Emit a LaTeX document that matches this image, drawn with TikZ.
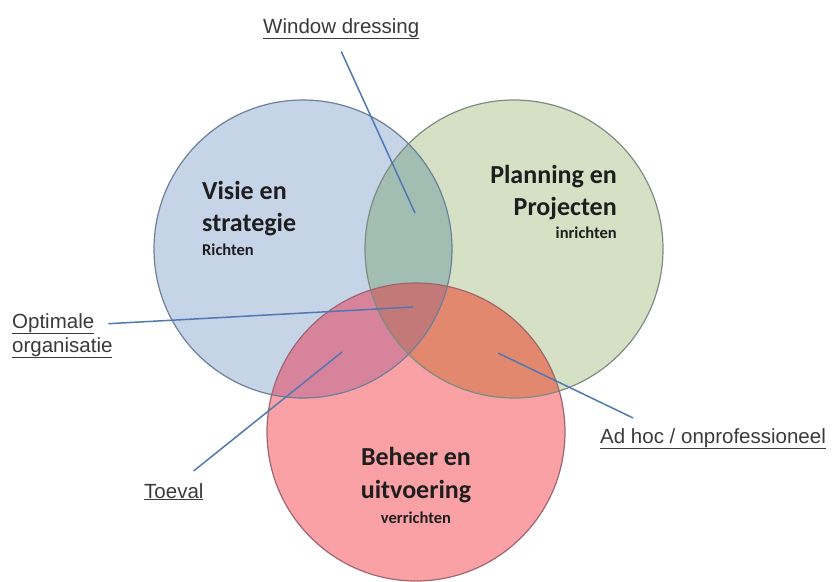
\documentclass[tikz,border=0pt]{standalone}
\usepackage{fontspec}
\usepackage{tikz}
\newfontfamily\calibri{Carlito}
\newfontfamily\arial{Liberation Sans}
\definecolor{visieblue}{HTML}{C6D4E8}
\definecolor{plangreen}{HTML}{D5E0C4}
\definecolor{beheerred}{HTML}{FAA1A6}
\definecolor{vpmix}{HTML}{A2BEB3}
\definecolor{vbmix}{HTML}{D7839B}
\definecolor{pbmix}{HTML}{E2886F}
\definecolor{allmix}{HTML}{C27977}
\definecolor{visieline}{HTML}{6E7F9A}
\definecolor{planline}{HTML}{7E8C83}
\definecolor{beheerline}{HTML}{9E6670}
\definecolor{calloutblue}{HTML}{5079B0}
\definecolor{labelgrey}{HTML}{3A3A3A}
\definecolor{titleblack}{HTML}{1E1E1E}
\tikzstyle{callout} = [draw=calloutblue, line width=1.5pt]
\tikzstyle{lbltext} = [inner sep=0pt, text=labelgrey, font=\arial\fontsize{20.5}{24}\selectfont]
\tikzstyle{circtitle} = [inner sep=0pt, text=titleblack, font=\calibri\bfseries\fontsize{26}{32}\selectfont]
\tikzstyle{circsub} = [inner sep=0pt, text=titleblack, font=\calibri\bfseries\fontsize{16.5}{20}\selectfont]

\begin{document}
\begin{tikzpicture}[x=1pt, y=-1pt]
    \useasboundingbox (0,0) rectangle (834,581);
    \coordinate (vc) at (303,249);
    \coordinate (pc) at (514,249);
    \coordinate (bc) at (416,432);
    % circles and overlaps
    \fill[visieblue] (vc) circle[radius=149pt];
    \fill[plangreen] (pc) circle[radius=149pt];
    \fill[beheerred] (bc) circle[radius=149pt];
    \begin{scope}
        \clip (vc) circle[radius=149pt];
        \fill[vpmix] (pc) circle[radius=149pt];
        \fill[vbmix] (bc) circle[radius=149pt];
    \end{scope}
    \begin{scope}
        \clip (pc) circle[radius=149pt];
        \fill[pbmix] (bc) circle[radius=149pt];
        \clip (vc) circle[radius=149pt];
        \fill[allmix] (bc) circle[radius=149pt];
    \end{scope}
    \draw[visieline, line width=1.2pt] (vc) circle[radius=149pt];
    \draw[planline, line width=1.2pt] (pc) circle[radius=149pt];
    \draw[beheerline, line width=1.2pt] (bc) circle[radius=149pt];

    \node[circtitle, anchor=base west] (visie1) at (202,199) {Visie en};
    \node[circtitle, anchor=base west] (visie2) at (202,231) {strategie};
    \node[circsub, anchor=base west] (visie3) at (202,255) {Richten};
    \node[circtitle, anchor=base east] (plan1) at (617,183) {Planning en};
    \node[circtitle, anchor=base east] (plan2) at (617,215) {Projecten};
    \node[circsub, anchor=base east] (plan3) at (617,238) {inrichten};
    \node[circtitle, anchor=base] (beh1) at (416,465) {Beheer en};
    \node[circtitle, anchor=base] (beh2) at (416,498) {uitvoering};
    \node[circsub, anchor=base] (beh3) at (416,523) {verrichten};

    \node[lbltext, anchor=base west] (wd) at (263,33) {\underline{Window dressing}};
    \node[lbltext, anchor=base west] (opt1) at (12,328) {\underline{Optimale}};
    \node[lbltext, anchor=base west] (opt2) at (12,352) {\underline{organisatie}};
    \node[lbltext, anchor=base west] (toe) at (144,498) {\underline{Toeval}};
    \node[lbltext, anchor=base west] (adh) at (600,443) {\underline{Ad hoc / onprofessioneel}};

    \coordinate (wdpt) at (415,213);
    \coordinate (optpt) at (413,307);
    \coordinate (toept) at (342,352);
    \coordinate (adhpt) at (498,353);
    \draw[callout] ([yshift=-12pt]wd.south) -- (wdpt);
    \draw[callout] ([xshift=14pt]opt1.east) -- (optpt);
    \draw[callout] ([xshift=-10pt,yshift=12pt]toe.north east) -- (toept);
    \draw[callout] ([xshift=33pt,yshift=10pt]adh.north west) -- (adhpt);
\end{tikzpicture}
\end{document}
